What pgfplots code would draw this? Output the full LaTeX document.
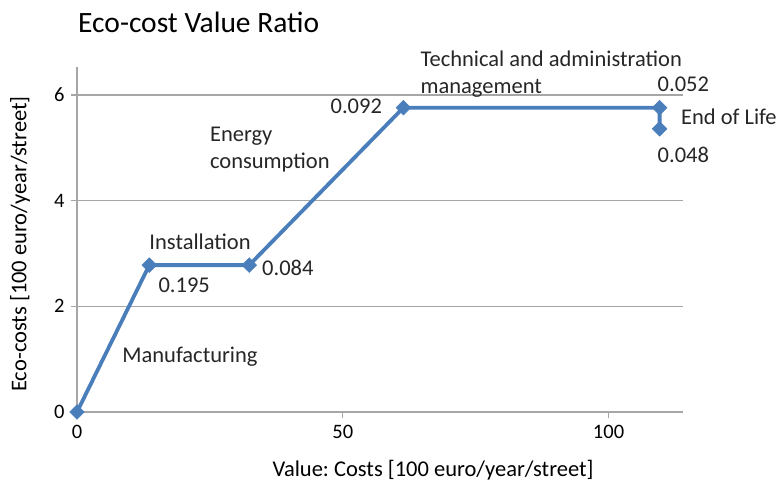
\documentclass[border=0pt]{standalone}
\usepackage{pgfplots}
\pgfplotsset{compat=1.18}
\usepackage{fontspec}
\setmainfont{Carlito}
\frenchspacing
\definecolor{lineblue}{HTML}{4A7EBB}
\definecolor{axgray}{HTML}{A6A6A6}
\begin{document}
\begin{tikzpicture}
\useasboundingbox (-77pt,-73pt) rectangle (700pt,412pt);
\begin{axis}[
  scale only axis,
  width=606pt, height=345pt,
  xmin=0, xmax=114, ymin=0, ymax=6.53,
  axis lines=left,
  axis line style={draw=axgray, line width=1.2pt, -},
  xtick={0,50,100}, ytick={0,2,4,6},
  tick style={draw=axgray, line width=1.2pt},
  tick align=outside,
  major tick length=6pt,
  ymajorgrids,
  grid style={draw=axgray, line width=1.2pt},
  tick label style={font=\fontsize{20.5}{24}\selectfont},
  /pgf/number format/assume math mode=true,
  xticklabel style={yshift=-4pt},
  yticklabel style={xshift=-3pt},
  clip=false,
]
\addplot[lineblue, line width=3.8pt, mark=square*, mark size=5.2pt,
  mark options={fill=lineblue, draw=lineblue, line width=0.5pt, rotate=45}]
  coordinates {(0,0) (13.6,2.78) (32.4,2.78) (61.4,5.76) (109.6,5.76) (109.6,5.36)};
\begin{scope}[every node/.style={font=\fontsize{22.5}{27}\selectfont, text=black!85, inner sep=0pt}]
\node[anchor=west] at (axis cs:8.5,1.04) {Manufacturing};
\node[anchor=west] at (axis cs:13.6,3.22) {Installation};
\node[anchor=west] at (axis cs:15.3,2.4) {0.195};
\node[anchor=west] at (axis cs:34.8,2.73) {0.084};
\node[anchor=west, align=left] at (axis cs:25.0,4.96) {Energy\\consumption};
\node[anchor=east] at (axis cs:57.4,5.78) {0.092};
\node[anchor=west, align=left] at (axis cs:64.6,6.4) {Technical and administration\\management};
\node[anchor=west] at (axis cs:109.2,6.21) {0.052};
\node[anchor=west] at (axis cs:113.6,5.59) {End of Life};
\node[anchor=west] at (axis cs:109.2,4.87) {0.048};
\end{scope}
\end{axis}
\node[anchor=west, font=\fontsize{29.5}{34}\selectfont, inner sep=0pt] at (1pt,390pt) {Eco-cost Value Ratio};
\node[rotate=90, font=\fontsize{22.5}{27}\selectfont, inner sep=0pt] at (-57pt,168pt) {Eco-costs [100 euro/year/street]};
\node[font=\fontsize{22.5}{27}\selectfont, inner sep=0pt] at (356pt,-58pt) {Value: Costs [100 euro/year/street]};
\end{tikzpicture}
\end{document}
